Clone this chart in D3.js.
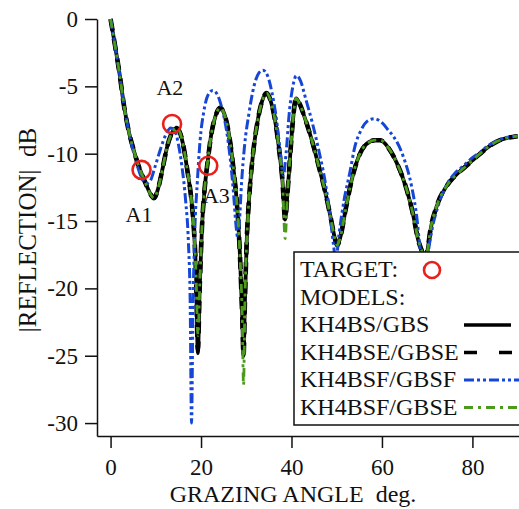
<!DOCTYPE html>
<html>
<head>
<meta charset="utf-8">
<script src="https://cdn.jsdelivr.net/npm/d3@7"></script>
<style>
  body { margin: 0; background: #fff; }
  svg text { font-family: "Liberation Serif", "DejaVu Serif", serif; fill: #111; }
</style>
</head>
<body>
<div class="chart"></div>
<script>
// KH4BS/GBS (solid black) and KH4BSE/GBSE (dashed black) share the same grid
const angBlack = [0, 1, 2, 3, 4, 5, 6, 7, 8, 9, 9.6, 10.5, 11.5, 12.5, 13.5, 14.5, 15.3, 16.2, 17, 17.8, 18.4, 18.9, 19.3, 19.7, 20.2, 20.8, 21.5, 22.3, 23.2, 24.2, 25.2, 26.2, 27.2, 28, 28.6, 29.1, 29.4, 29.7, 30.1, 30.7, 31.5, 32.5, 33.5, 34.5, 35.5, 36.5, 37.3, 38, 38.6, 39.1, 39.7, 40.3, 41, 41.8, 43, 44.5, 46, 47.5, 48.7, 49.6, 50.1, 50.8, 52, 53.5, 55, 56.5, 58.5, 59.6, 61.5, 63.3, 65.5, 67, 68, 68.8, 69.5, 70.2, 70.6, 72.1, 74.3, 76, 78, 80, 81.7, 83.5, 85.4, 87.5, 90];
const dbSolid = [0, -2.0, -4.1, -6.5, -8.3, -9.6, -10.7, -11.6, -12.4, -13.1, -13.3, -12.6, -11.1, -9.5, -8.5, -8.1, -8.4, -9.6, -11.3, -13.2, -15.5, -19, -24.8, -20, -15.5, -12.6, -10.5, -8.5, -7.2, -6.6, -7.1, -8.6, -11.2, -14, -17.5, -22, -25, -21, -16.5, -13, -10, -7.6, -6.1, -5.5, -6.2, -7.8, -9.8, -12, -14.9, -13, -10.2, -7.6, -5.9, -6.3, -7.4, -9, -10.9, -12.9, -14.8, -16.3, -16.8, -16.2, -14.1, -11.7, -10.1, -9.3, -9.0, -9.0, -9.6, -10.7, -12.7, -14.7, -16.4, -17.2, -18, -16.9, -15.9, -13.9, -12.4, -11.7, -11.1, -10.5, -10.0, -9.5, -9.1, -8.85, -8.7];
const dbDashed = [0, -2.0, -4.1, -6.5, -8.3, -9.6, -10.7, -11.6, -12.4, -13.1, -13.3, -12.6, -11.1, -9.5, -8.5, -8.1, -8.4, -9.6, -11.3, -13.2, -15.5, -19, -24.5, -20, -15.5, -12.6, -10.5, -8.5, -7.2, -6.6, -7.1, -8.6, -11.2, -14, -17.5, -22, -25, -21, -16.5, -13, -10, -7.6, -6.1, -5.5, -6.2, -7.8, -9.8, -12, -14.9, -13, -10.2, -7.6, -5.9, -6.3, -7.4, -9, -10.9, -12.9, -14.8, -16.3, -16.8, -16.2, -14.1, -11.7, -10.1, -9.3, -9.0, -9.0, -9.6, -10.7, -12.7, -14.7, -16.4, -17.2, -18, -16.9, -15.9, -13.9, -12.4, -11.7, -11.1, -10.5, -10.0, -9.5, -9.1, -8.85, -8.7];
// KH4BSF/GBSE (green dash-dot)
const dbGreen = [0, -2.0, -4.1, -6.5, -8.3, -9.6, -10.7, -11.6, -12.4, -13.1, -13.3, -12.6, -11.1, -9.5, -8.5, -8.1, -8.4, -9.6, -11.3, -13.2, -15.5, -19, -23.5, -20, -15.5, -12.6, -10.5, -8.5, -7.2, -6.6, -7.1, -8.6, -11.2, -14, -17.5, -22, -27.2, -21, -16.5, -13, -10, -7.6, -6.1, -5.5, -6.2, -7.8, -9.8, -12, -16.3, -13, -10.2, -7.6, -5.9, -6.3, -7.4, -9, -10.9, -12.9, -14.8, -16.3, -16.8, -16.2, -14.1, -11.7, -10.1, -9.3, -9.0, -9.0, -9.6, -10.7, -12.7, -14.7, -16.4, -17.2, -18, -16.9, -15.9, -13.9, -12.4, -11.7, -11.1, -10.5, -10.0, -9.5, -9.1, -8.85, -8.7];
// KH4BSF/GBSF (blue dash-dot-dot)
const angBlue = [0, 1, 2, 3, 4, 5, 6, 7, 8, 8.8, 9.8, 11, 12.2, 13.3, 14.2, 15, 15.8, 16.6, 17.2, 17.6, 17.9, 18.2, 18.6, 19.2, 19.8, 20.6, 21.6, 22.6, 23.6, 24.6, 25.6, 26.5, 27.2, 27.7, 28.1, 28.5, 28.9, 29.6, 30.6, 31.7, 32.8, 33.7, 34.7, 35.7, 36.7, 37.5, 38.2, 38.8, 39.5, 40.3, 41.1, 42, 43.2, 44.6, 46, 47.4, 48.5, 49.3, 49.8, 50.5, 51.6, 52.9, 54, 55.3, 56.7, 58.3, 60, 61.5, 62.5, 64.7, 66.6, 67.7, 68.4, 69.6, 70.6, 71.2, 72.5, 74.5, 76, 78, 80, 81.7, 83.5, 85.4, 87.5, 90];
const dbBlue = [0, -2.0, -4.1, -6.5, -8.3, -9.8, -11.0, -11.9, -12.2, -12.0, -11.0, -9.7, -8.6, -8.1, -8.3, -9.3, -11, -13.5, -16.5, -21, -30, -22, -16, -12, -9.0, -6.9, -5.6, -5.3, -5.6, -6.6, -8.2, -10.5, -13, -15.2, -16.2, -15, -12.5, -9.5, -7, -5, -4.0, -3.8, -4.2, -5.5, -7.5, -9.8, -11.6, -10, -7, -5, -4.2, -4.6, -6, -7.7, -9.7, -12, -14.5, -16.8, -18, -16, -13.5, -11.4, -9.5, -8.3, -7.6, -7.4, -7.7, -8.3, -8.7, -10.2, -12.5, -14.7, -16.9, -18.5, -16.5, -15.4, -13.8, -12.2, -11.5, -10.9, -10.3, -9.9, -9.4, -9.05, -8.8, -8.7];

// measured targets
const targetAng = [6.85, 13.6, 21.6];
const targetDb = [-11.2, -7.8, -10.9];
const targetNames = ["A1", "A2", "A3"];
const targetLabelAng = [6.3, 13.1, 23.4];
const targetLabelDb = [-15.05, -5.64, -13.66];

const xTicks = [0, 20, 40, 60, 80];
const yTicks = [0, -5, -10, -15, -20, -25, -30];
const legendNames = ["KH4BS/GBS", "KH4BSE/GBSE", "KH4BSF/GBSF", "KH4BSF/GBSE"];

const FONT = '"Liberation Serif", "DejaVu Serif", serif';
const width = 519, height = 509;
const svg = d3.select(".chart").append("svg").attr("width", width).attr("height", height)
  .attr("font-family", FONT);

const xScale = d3.scaleLinear().domain([-3, 90.3]).range([97, 519]);
const yScale = d3.scaleLinear().domain([-30.96, 0]).range([436, 19]);

const styles = [
  {color: "#000", w: 3.8, dash: null},
  {color: "#000", w: 4.6, dash: "12,8"},
  {color: "#1646d6", w: 3, dash: "10,3,3,3,3,3"},
  {color: "#4c9a1c", w: 2.8, dash: "9,5,3,5"}
];

const series = [
  angBlack.map((a, i) => [a, dbSolid[i]]),
  angBlack.map((a, i) => [a, dbDashed[i]]),
  angBlue.map((a, i) => [a, dbBlue[i]]),
  angBlack.map((a, i) => [a, dbGreen[i]])
];

const line = d3.line().x(d => xScale(d[0])).y(d => yScale(d[1])).curve(d3.curveMonotoneX);

svg.append("g").selectAll("path")
  .data(series)
  .enter()
  .append("path")
  .attr("d", line)
  .attr("fill", "none")
  .attr("stroke", (d, i) => styles[i].color)
  .attr("stroke-width", (d, i) => styles[i].w)
  .attr("stroke-dasharray", (d, i) => styles[i].dash);

// axes
const yAxis = d3.axisLeft(yScale).tickValues(yTicks).tickSize(12).tickSizeOuter(0).tickPadding(7).tickFormat(d => String(d));
const gy = svg.append("g").attr("transform", "translate(97,0)").call(yAxis);
const xAxis = d3.axisBottom(xScale).tickValues(xTicks).tickSize(12).tickSizeOuter(0).tickPadding(11).tickFormat(d => String(d));
const gx = svg.append("g").attr("transform", "translate(0,436)").call(xAxis);
[gx, gy].forEach(g => {
  g.attr("font-family", FONT);
  g.selectAll("path, line").attr("stroke", "#111").attr("stroke-width", 1.5);
  g.selectAll("text").attr("font-size", 23).attr("fill", "#111");
});

svg.append("text")
  .attr("x", 293).attr("y", 502)
  .attr("text-anchor", "middle")
  .attr("font-size", 24)
  .style("white-space", "pre")
  .text("GRAZING ANGLE  deg.");

svg.append("text")
  .attr("transform", "translate(36,230) rotate(-90)")
  .attr("text-anchor", "middle")
  .attr("font-size", 25)
  .style("white-space", "pre")
  .text("|REFLECTION|  dB");

// targets
svg.append("g").selectAll("circle")
  .data(targetAng)
  .enter()
  .append("circle")
  .attr("cx", d => xScale(d))
  .attr("cy", (d, i) => yScale(targetDb[i]))
  .attr("r", 9)
  .attr("fill", "none")
  .attr("stroke", "#e8201c")
  .attr("stroke-width", 2.6);

svg.append("g").selectAll("text")
  .data(targetNames)
  .enter()
  .append("text")
  .attr("x", (d, i) => xScale(targetLabelAng[i]))
  .attr("y", (d, i) => yScale(targetLabelDb[i]))
  .attr("text-anchor", "middle")
  .attr("font-size", 22)
  .text(d => d);

// legend
const lg = svg.append("g");
lg.append("rect").attr("x", 294).attr("y", 252).attr("width", 240).attr("height", 173)
  .attr("fill", "#fff").attr("stroke", "#111").attr("stroke-width", 1.5);
lg.append("text").attr("x", 300).attr("y", 277).attr("font-size", 24).text("TARGET:");
lg.append("circle").attr("cx", 432).attr("cy", 270).attr("r", 8)
  .attr("fill", "none").attr("stroke", "#e8201c").attr("stroke-width", 2.6);
lg.append("text").attr("x", 300).attr("y", 304.5).attr("font-size", 24).text("MODELS:");
legendNames.forEach((name, i) => {
  const yb = 332 + i * 27.5;
  lg.append("text").attr("x", 300).attr("y", yb).attr("font-size", 24).text(name);
  lg.append("line")
    .attr("x1", 464).attr("x2", i === 0 ? 511 : 519)
    .attr("y1", yb - 7).attr("y2", yb - 7)
    .attr("stroke", styles[i].color)
    .attr("stroke-width", i < 2 ? 3.5 : styles[i].w)
    .attr("stroke-dasharray", i === 1 ? "13,22" : styles[i].dash);
});
</script>
</body>
</html>
